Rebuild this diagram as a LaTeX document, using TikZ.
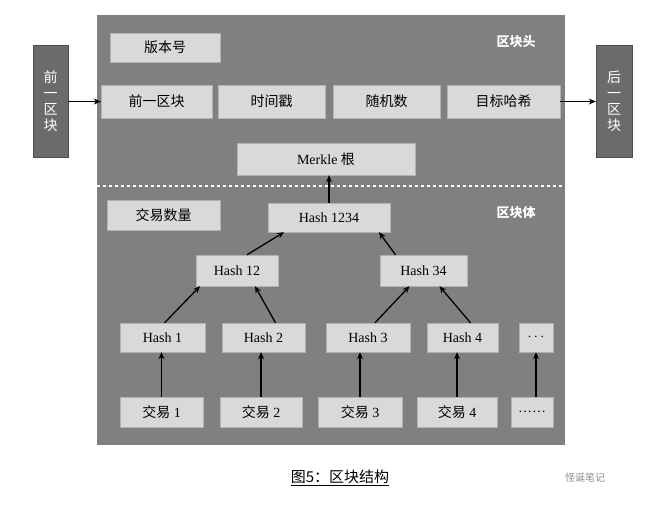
\documentclass[tikz,border=0pt]{standalone}
\usepackage{fontspec}
\setmainfont{Liberation Serif}
\newfontfamily\cjk{Noto Sans CJK SC}
\usetikzlibrary{arrows.meta}
\begin{document}
\begin{tikzpicture}[x=1pt,y=-1pt,
 lbox/.style={fill=black!15,draw=black!30,inner sep=0pt,font=\fontsize{14}{14}\selectfont},
 sbox/.style={fill=black!58,draw=black!70,inner sep=0pt,text=white,font=\cjk\fontsize{14}{16}\selectfont,align=center},
 arr/.style={-{Stealth[length=7pt,width=6pt]},line width=1.3pt},
 tag/.style={text=white,font=\cjk\bfseries\fontsize{13}{13}\selectfont}]
\useasboundingbox[fill=white] (0,0) rectangle (650,508);
\fill[black!50] (97,15) rectangle (565,445);
\node[sbox,minimum width=35,minimum height=112] (prev) at (50.5,101) {前\\一\\区\\块};
\node[sbox,minimum width=36,minimum height=112] (next) at (614,101) {后\\一\\区\\块};
\newcommand{\bx}[6]{\node[lbox,minimum width=#4-#3,minimum height=#6-#5] (#1) at ({(#3+#4)/2},{(#5+#6)/2}) {#2};}
\bx{ver}{\cjk 版本号}{110}{220}{33}{62}
\bx{ph}{\cjk 前一区块}{101}{212}{85}{118}
\bx{ts}{\cjk 时间戳}{218}{325}{85}{118}
\bx{nonce}{\cjk 随机数}{333}{440}{85}{118}
\bx{tgt}{\cjk 目标哈希}{447}{560}{85}{118}
\bx{mr}{Merkle {\cjk 根}}{237}{415}{143}{175}
\bx{cnt}{\cjk 交易数量}{107}{220}{200}{230}
\bx{h1234}{Hash 1234}{268}{390}{203}{232}
\bx{h12}{Hash 12}{196}{278}{255}{286}
\bx{h34}{Hash 34}{380}{467}{255}{286}
\bx{h1}{Hash 1}{120}{205}{323}{352}
\bx{h2}{Hash 2}{222}{305}{323}{352}
\bx{h3}{Hash 3}{326}{410}{323}{352}
\bx{h4}{Hash 4}{427}{498}{323}{352}
\bx{hd}{\textbf{$\cdots$}}{519}{553}{323}{352}
\bx{t1}{{\cjk 交易} 1}{120}{203}{397}{427}
\bx{t2}{{\cjk 交易} 2}{220}{302}{397}{427}
\bx{t3}{{\cjk 交易} 3}{318}{402}{397}{427}
\bx{t4}{{\cjk 交易} 4}{417}{497}{397}{427}
\bx{td}{……}{511}{553}{397}{427}
\node[tag] (hd1) at (516,42) {区块头};
\node[tag] (hd2) at (516,213) {区块体};
\draw[white,dashed,line width=1.2pt] (97,186) -- (565,186);
\draw[arr] (prev.east|-ph) -- (ph);
\draw[arr] (tgt) -- (next.west|-tgt);
\draw[arr] (h1234.north) -- (mr.south-|h1234.north);
\draw[arr] ([xshift=10pt]h12.north) -- ([xshift=-45pt]h1234.south);
\draw[arr] ([xshift=-28pt]h34.north) -- ([xshift=50pt]h1234.south);
\draw[arr] ([xshift=2pt]h1.north) -- ([xshift=-37pt]h12.south);
\draw[arr] ([xshift=12pt]h2.north) -- ([xshift=18pt]h12.south);
\draw[arr] ([xshift=7pt]h3.north) -- ([xshift=-14pt]h34.south);
\draw[arr] ([xshift=8pt]h4.north) -- ([xshift=16pt]h34.south);
\foreach \a/\b in {t1/h1,t2/h2,t3/h3,t4/h4} \draw[arr] (\a.north) -- (\b.south-|\a.north);
\draw[arr] (td.north-|hd.south) -- (hd.south);
\node[font=\cjk\fontsize{15}{15}\selectfont] (cap) at (340,478) {\underline{图5：区块结构}};
\node[font=\cjk\fontsize{10}{10}\selectfont,text=black!45] (wm) at (585,478) {怪诞笔记};
\end{tikzpicture}
\end{document}
